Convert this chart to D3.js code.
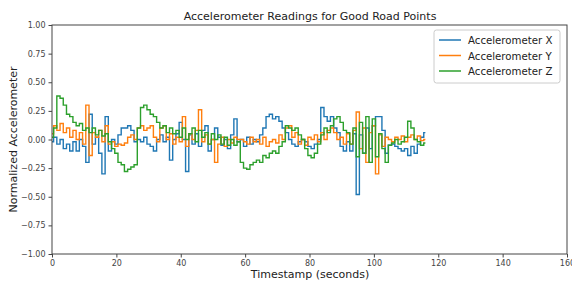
<!DOCTYPE html>
<html>
<head>
<meta charset="utf-8">
<script src="https://cdn.jsdelivr.net/npm/d3@7"></script>
<style>
  body { margin: 0; background: #fff; }
  svg { font-family: "DejaVu Sans", sans-serif; }
</style>
</head>
<body>
<div id="chart"></div>
<script>
// readings, one per second (t = 0 .. 116)
var seconds = d3.range(117);

var accelX = [
  -0.02, 0.02, -0.04, 0.00, -0.08, -0.04, -0.10, -0.02, -0.10, 0.00,
  -0.06, -0.20, 0.22, -0.04, 0.02, -0.12, -0.30, 0.20, -0.10, 0.00,
  -0.04, 0.04, 0.10, 0.10, 0.12, 0.08, -0.02, 0.00, -0.02, 0.02,
  -0.04, -0.06, -0.10, 0.00, 0.04, -0.02, 0.02, -0.18, 0.00, 0.05,
  0.15, 0.00, -0.28, 0.04, -0.04, 0.05, -0.06, 0.08, 0.12, -0.10,
  0.00, 0.10, 0.02, -0.05, 0.00, -0.08, 0.04, 0.18, -0.02, 0.00,
  -0.06, 0.02, -0.04, 0.00, -0.02, 0.04, 0.10, 0.20, 0.22, 0.18,
  0.20, 0.16, 0.10, 0.06, 0.00, -0.04, -0.06, -0.02, 0.00, -0.02,
  -0.06, -0.08, -0.04, 0.00, 0.28, 0.20, 0.16, 0.20, 0.10, 0.06,
  -0.06, -0.10, -0.02, -0.10, 0.05, -0.48, 0.04, -0.12, 0.10, -0.08,
  0.12, 0.20, 0.20, 0.08, -0.12, -0.05, -0.04, -0.06, -0.08, -0.10,
  -0.08, -0.14, -0.06, -0.12, -0.04, 0.02, 0.06
];

var accelY = [
  0.05, 0.12, 0.08, 0.14, 0.06, 0.10, 0.02, 0.08, 0.00, 0.06,
  -0.04, 0.30, -0.14, 0.06, 0.02, 0.08, -0.02, 0.12, -0.04, -0.02,
  -0.06, -0.04, -0.05, -0.03, 0.02, 0.04, 0.00, 0.10, 0.12, 0.08,
  0.10, 0.12, 0.02, -0.02, 0.10, 0.12, 0.00, 0.05, -0.04, 0.02,
  -0.02, 0.20, -0.06, 0.05, 0.00, 0.08, 0.26, -0.02, 0.04, -0.04,
  0.00, -0.20, -0.04, 0.02, -0.06, 0.00, -0.03, 0.02, 0.00, 0.00,
  -0.02, -0.04, 0.02, -0.02, 0.00, -0.04, 0.02, -0.06, -0.02, 0.00,
  -0.03, 0.04, 0.00, 0.10, 0.12, 0.02, 0.06, -0.04, 0.00, -0.05,
  0.02, 0.00, 0.04, -0.02, 0.06, 0.00, 0.08, 0.10, 0.06, 0.00,
  0.02, -0.04, 0.05, -0.04, 0.08, 0.24, -0.08, 0.10, -0.20, 0.06,
  0.12, -0.30, 0.04, -0.06, 0.02, 0.00, -0.02, 0.02, 0.00, 0.03,
  -0.02, 0.02, 0.04, 0.00, 0.03, -0.01, 0.00
];

var accelZ = [
  0.02, 0.10, 0.38, 0.36, 0.30, 0.22, 0.20, 0.15, 0.12, 0.14,
  0.08, 0.10, 0.06, 0.10, 0.04, 0.08, 0.03, 0.05, -0.02, -0.08,
  -0.12, -0.20, -0.22, -0.28, -0.26, -0.24, -0.22, 0.10, 0.28, 0.30,
  0.26, 0.22, 0.20, 0.15, 0.10, 0.12, 0.06, 0.10, 0.05, 0.08,
  0.02, 0.10, 0.00, 0.05, 0.10, -0.02, 0.08, 0.02, 0.06, -0.04,
  0.05, 0.00, 0.04, -0.04, 0.02, -0.05, 0.00, -0.05, -0.02, -0.20,
  -0.25, -0.26, -0.22, -0.20, -0.18, -0.20, -0.14, -0.16, -0.12, -0.10,
  -0.12, -0.06, -0.02, 0.12, 0.10, 0.08, 0.10, 0.04, 0.00, -0.08,
  -0.14, -0.16, -0.12, -0.04, 0.04, 0.10, 0.06, 0.12, 0.18, 0.20,
  0.15, 0.08, 0.06, -0.04, 0.10, -0.15, 0.15, -0.12, 0.20, -0.20,
  0.18, -0.15, 0.05, -0.08, -0.20, -0.05, -0.03, 0.00, -0.04, -0.02,
  0.02, 0.16, 0.10, 0.00, -0.02, -0.05, -0.03
];

var seriesNames = ["Accelerometer X", "Accelerometer Y", "Accelerometer Z"];
var seriesColors = ["#1f77b4", "#ff7f0e", "#2ca02c"];
var xTicks = [0, 20, 40, 60, 80, 100, 120, 140, 160];
var yTicks = [-1, -0.75, -0.5, -0.25, 0, 0.25, 0.5, 0.75, 1];

var w = 572, h = 282;
var margin = {left: 52, right: 5, top: 25, bottom: 28};

var svg = d3.select("#chart").append("svg")
  .attr("width", w)
  .attr("height", h);

var x = d3.scaleLinear().domain([0, 160]).range([margin.left, w - margin.right]);
var y = d3.scaleLinear().domain([-1, 1]).range([h - margin.bottom, margin.top]);

// lines
var allSeries = [accelX, accelY, accelZ];
var line = d3.line()
  .x(function(d, i) { return x(seconds[i]); })
  .y(function(d) { return y(d); })
  .curve(d3.curveStep);

allSeries.forEach(function(s, k) {
  svg.append("path")
    .datum(s)
    .attr("fill", "none")
    .attr("stroke", seriesColors[k])
    .attr("stroke-width", 1.4)
    .attr("d", line);
});

// axes
var xAxis = svg.append("g")
  .attr("transform", "translate(0," + (h - margin.bottom) + ")")
  .call(d3.axisBottom(x).tickValues(xTicks).tickSize(3.5).tickPadding(3).tickFormat(d3.format("d")));
var yAxis = svg.append("g")
  .attr("transform", "translate(" + margin.left + ",0)")
  .call(d3.axisLeft(y).tickValues(yTicks).tickSize(3.5).tickPadding(3).tickFormat(d3.format(".2f")));

[xAxis, yAxis].forEach(function(a) {
  a.select(".domain").remove();
  a.selectAll("line").attr("stroke", "#444");
  a.selectAll("text").attr("fill", "#444").style("font-size", "8px")
    .style("font-family", "'DejaVu Sans', sans-serif");
});

// frame
svg.append("rect")
  .attr("x", margin.left)
  .attr("y", margin.top)
  .attr("width", w - margin.right - margin.left)
  .attr("height", h - margin.bottom - margin.top)
  .attr("fill", "none")
  .attr("stroke", "#444")
  .attr("stroke-width", 1);

// titles
svg.append("text")
  .attr("x", 310).attr("y", 20)
  .attr("text-anchor", "middle")
  .style("font-size", "11px")
  .attr("fill", "#222")
  .text("Accelerometer Readings for Good Road Points");

svg.append("text")
  .attr("x", 310).attr("y", 278)
  .attr("text-anchor", "middle")
  .style("font-size", "11px")
  .attr("fill", "#222")
  .text("Timestamp (seconds)");

svg.append("text")
  .attr("transform", "translate(17," + ((margin.top + h - margin.bottom) / 2) + ") rotate(-90)")
  .attr("text-anchor", "middle")
  .style("font-size", "11px")
  .attr("fill", "#222")
  .text("Normalized Accelerometer");

// legend
var legend = svg.append("g").attr("transform", "translate(434,30)");
legend.append("rect")
  .attr("width", 126).attr("height", 53)
  .attr("rx", 2.5)
  .attr("fill", "#fff")
  .attr("fill-opacity", 0.8)
  .attr("stroke", "#ccc");

seriesNames.forEach(function(name, k) {
  var g = legend.append("g").attr("transform", "translate(0," + (10 + k * 15.5) + ")");
  g.append("line")
    .attr("x1", 5).attr("x2", 27)
    .attr("stroke", seriesColors[k])
    .attr("stroke-width", 1.5);
  g.append("text")
    .attr("x", 34).attr("y", 4)
    .style("font-size", "10.2px")
    .attr("fill", "#222")
    .text(name);
});
</script>
</body>
</html>
